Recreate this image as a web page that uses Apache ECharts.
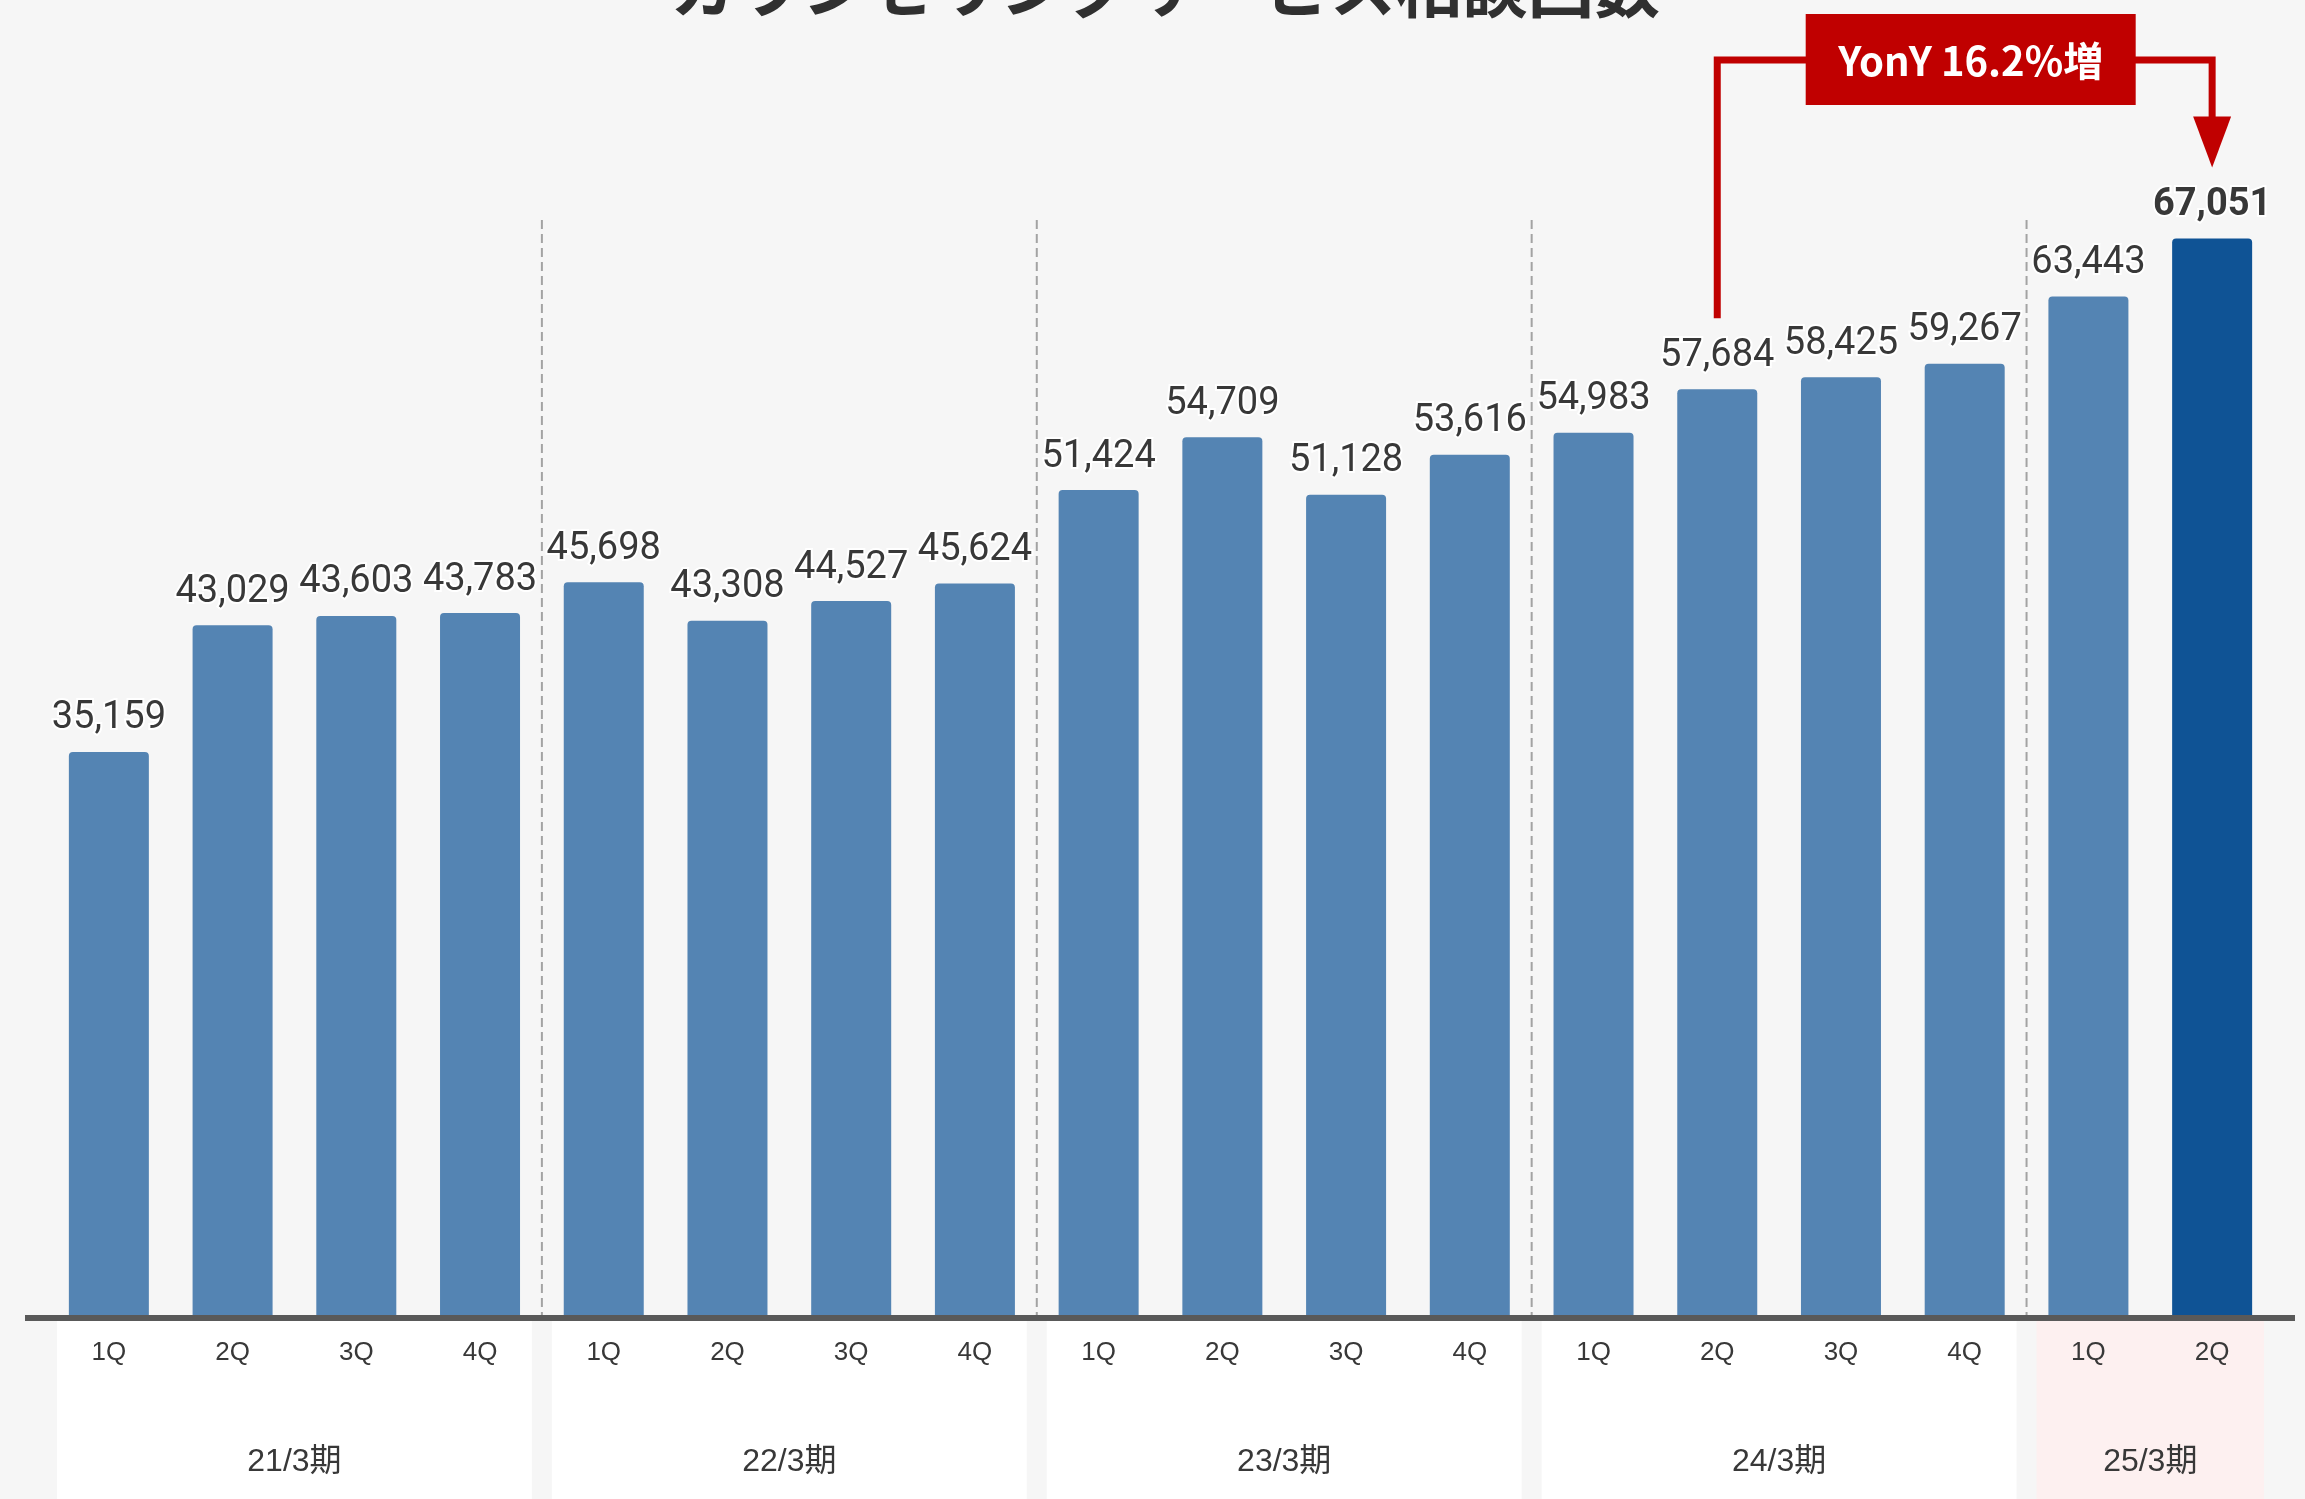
<!DOCTYPE html>
<html>
<head>
<meta charset="utf-8">
<title>カウンセリングサービス相談回数</title>
<script src="https://cdn.jsdelivr.net/npm/echarts@6/dist/echarts.min.js"></script>
<style>
  html, body { margin: 0; padding: 0; background: #f6f6f6; }
  #chart { width: 2305px; height: 1499px; }
</style>
</head>
<body>
<div id="chart"></div>
<script>
// ---- data ----
const titleText = 'カウンセリングサービス相談回数';
const periods = ['21/3期', '22/3期', '23/3期', '24/3期', '25/3期'];
const quarterLabels = ['1Q', '2Q', '3Q', '4Q', '1Q', '2Q', '3Q', '4Q', '1Q', '2Q', '3Q', '4Q',
                       '1Q', '2Q', '3Q', '4Q', '1Q', '2Q'];
const periodOfQuarter = [0, 0, 0, 0, 1, 1, 1, 1, 2, 2, 2, 2, 3, 3, 3, 3, 4, 4];
const counts = [35159, 43029, 43603, 43783, 45698, 43308, 44527, 45624,
                51424, 54709, 51128, 53616, 54983, 57684, 58425, 59267,
                63443, 67051];
const yoyText = 'YonY 16.2%増';
const yoyFromIndex = 13;   // 24/3期 2Q
const yoyToIndex = 17;     // 25/3期 2Q

// unique category keys (period + quarter) so repeated quarter names stay distinct
const categories = quarterLabels.map((q, i) => periods[periodOfQuarter[i]] + '|' + q);
const lastIndex = counts.length - 1;

const BAR = '#5484b3';
const BAR_LATEST = '#0f5395';
const RED = '#c00000';
const TEXT = '#383838';

const chart = echarts.init(document.getElementById('chart'), null, { renderer: 'canvas' });

const option = {
  animation: false,
  backgroundColor: '#f6f6f6',
  grid: { left: 47, right: 31, top: 30, bottom: 181, containLabel: false },
  xAxis: {
    type: 'category',
    data: categories,
    boundaryGap: true,
    axisLine: { show: false },
    axisTick: { show: false },
    splitLine: { show: false },
    axisLabel: {
      interval: 0,
      margin: 22,
      fontFamily: "'Liberation Sans', Arial, sans-serif",
      fontSize: 26,
      color: TEXT,
      formatter: v => v.split('|')[1]
    },
    z: 20
  },
  yAxis: {
    type: 'value',
    min: 0,
    max: 80000,
    show: false
  },
  series: [{
    type: 'bar',
    barWidth: 80,
    data: counts.map((v, i) => i === lastIndex
      ? { value: v, itemStyle: { color: BAR_LATEST }, label: { fontWeight: 'bold' } }
      : v),
    itemStyle: { color: BAR, borderRadius: [4, 4, 0, 0] },
    label: {
      show: true,
      position: 'top',
      distance: 14,
      fontFamily: 'Roboto, sans-serif',
      fontSize: 38,
      color: TEXT,
      textBorderColor: '#ffffff',
      textBorderWidth: 4,
      formatter: p => p.value.toLocaleString('en-US')
    },
    z: 5
  }]
};
chart.setOption(option);

// ---- decorations placed from the axes' own scales ----
const px = i => chart.convertToPixel({ xAxisIndex: 0 }, i);
const py = v => chart.convertToPixel({ yAxisIndex: 0 }, v);
const band = px(1) - px(0);
const axisY = py(0);

const elements = [];

// title (sits mostly above the canvas edge)
elements.push({
  type: 'text', z: 30,
  style: {
    x: 1165, y: -13, text: titleText,
    fontFamily: "'Noto Sans CJK JP', sans-serif", fontWeight: 'bold', fontSize: 66,
    fill: '#303030', align: 'center', verticalAlign: 'middle'
  }
});

// period panels, separators and period labels
let start = 0;
periods.forEach((name, g) => {
  const n = periodOfQuarter.filter(p => p === g).length;
  const left = px(start) - band / 2;
  const right = px(start + n - 1) + band / 2;
  const isLatest = g === periods.length - 1;
  elements.push({
    type: 'rect', z: 0,
    shape: { x: left + 10, y: axisY + 3, width: right - left - 20, height: 1499 - axisY },
    style: { fill: isLatest ? '#fdf0f0' : '#ffffff' }
  });
  elements.push({
    type: 'text', z: 25,
    style: {
      x: (left + right) / 2, y: 1462, text: name,
      fontFamily: "'Liberation Sans', 'Noto Sans CJK JP', sans-serif", fontSize: 32,
      fill: TEXT, align: 'center', verticalAlign: 'middle'
    }
  });
  if (g > 0) {
    elements.push({
      type: 'line', z: 1,
      shape: { x1: left, y1: 220, x2: left, y2: axisY },
      style: { stroke: '#a3a3a3', lineWidth: 2, lineDash: [9, 5] }
    });
  }
  start += n;
});

// baseline
elements.push({
  type: 'line', z: 20,
  shape: { x1: 25, y1: axisY, x2: 2295, y2: axisY },
  style: { stroke: '#595959', lineWidth: 6 }
});

// year-on-year bracket
const xa = px(yoyFromIndex);
const xb = px(yoyToIndex);
const yBracket = 60;
const yStart = py(counts[yoyFromIndex]) - 71;
const yTip = py(counts[yoyToIndex]) - 71;
elements.push({
  type: 'polyline', z: 30,
  shape: { points: [[xa, yStart], [xa, yBracket], [xb, yBracket], [xb, yTip - 50]] },
  style: { stroke: RED, lineWidth: 7, fill: null, lineJoin: 'miter' }
});
elements.push({
  type: 'polygon', z: 31,
  shape: { points: [[xb - 19, yTip - 51], [xb + 19, yTip - 51], [xb, yTip]] },
  style: { fill: RED }
});
const boxCx = (xa + xb) / 2 + 6;
elements.push({
  type: 'rect', z: 32,
  shape: { x: boxCx - 165, y: 14, width: 330, height: 91 },
  style: { fill: RED }
});
elements.push({
  type: 'text', z: 33,
  style: {
    x: boxCx, y: 61, text: yoyText,
    fontFamily: "'Noto Sans CJK JP', sans-serif", fontWeight: 'bold', fontSize: 40,
    fill: '#ffffff', align: 'center', verticalAlign: 'middle'
  }
});

chart.setOption({ graphic: { elements } });
</script>
</body>
</html>
